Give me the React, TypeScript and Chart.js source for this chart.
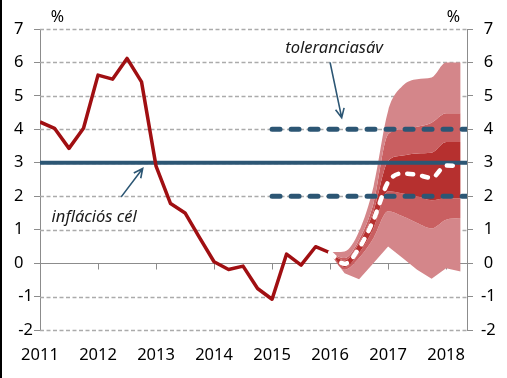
import React, { useEffect, useRef } from 'react';
import { Chart, registerables } from 'chart.js';

Chart.register(...registerables);

// ---------- data ----------
const yearTicks = [2011, 2012, 2013, 2014, 2015, 2016, 2017, 2018];
const valueTicks = [-2, -1, 0, 1, 2, 3, 4, 5, 6, 7];
const xMin = 2011;
const xMax = 2018.36;
const yMin = -2;
const yMax = 7;

const histX = [2011, 2011.25, 2011.5, 2011.75, 2012, 2012.25, 2012.5, 2012.75, 2013, 2013.25, 2013.5, 2013.75, 2014, 2014.25, 2014.5, 2014.75, 2015, 2015.25, 2015.5, 2015.75, 2016];
const inflation = [4.22, 4.03, 3.43, 4.03, 5.62, 5.5, 6.12, 5.42, 2.9, 1.78, 1.5, 0.76, 0.04, -0.19, -0.09, -0.76, -1.08, 0.27, -0.06, 0.49, 0.31];

const fcX = [2016, 2016.25, 2016.5, 2016.75, 2017, 2017.25, 2017.5, 2017.75, 2018, 2018.25];
const fcCentral = [0.31, -0.02, 0.45, 1.3, 2.42, 2.68, 2.64, 2.55, 2.92, 2.9];
const fcOuterHigh = [0.33, 0.35, 0.95, 2.3, 4.55, 5.3, 5.5, 5.55, 6.0, 6.0];
const fcMidHigh = [0.32, 0.15, 0.7, 1.8, 3.85, 4.0, 4.08, 4.2, 4.48, 4.48];
const fcInnerHigh = [0.31, 0.08, 0.6, 1.55, 3.05, 3.22, 3.28, 3.3, 3.62, 3.62];
const fcInnerLow = [0.3, -0.12, 0.3, 1.05, 2.15, 2.08, 2.0, 1.88, 1.94, 1.94];
const fcMidLow = [0.29, -0.2, 0.15, 0.75, 1.55, 1.4, 1.2, 1.04, 1.3, 1.35];
const fcOuterLow = [0.27, -0.3, -0.48, 0.0, 0.5, 0.15, -0.2, -0.47, -0.15, -0.25];

const inflationTarget = 3;
const toleranceLow = 2;
const toleranceHigh = 4;
const toleranceStart = 2015;

const toleranceLabel = 'toleranciasáv';
const targetLabel = 'inflációs cél';
const unitLabel = '%';
// annotation anchors in data units [x, y]
const toleranceLabelAt = [2016.07, 6.43];
const toleranceArrow = [2016.0, 6.0, 2016.2, 4.35];
const targetLabelAt = [2011.2, 1.38];
const targetArrow = [2012.4, 1.98, 2012.77, 2.83];

// ---------- styles ----------
const FONT = '"Noto Sans", "DejaVu Sans", sans-serif';
const BLUE = '#2C5674';
const RED = '#A00F12';
const LIGHT = '#D4868A';
const MEDIUM = '#C95F61';
const DARK = '#B6302F';
const AXIS = '#8c8c8c';

const pts = (xs: number[], ys: number[]) => xs.map((x, i) => ({ x, y: ys[i] }));

function drawArrow(ctx: CanvasRenderingContext2D, x1: number, y1: number, x2: number, y2: number) {
  const ang = Math.atan2(y2 - y1, x2 - x1);
  const len = 10;
  const spread = 0.45;
  ctx.beginPath();
  ctx.moveTo(x1, y1);
  ctx.lineTo(x2, y2);
  ctx.moveTo(x2 - len * Math.cos(ang - spread), y2 - len * Math.sin(ang - spread));
  ctx.lineTo(x2, y2);
  ctx.lineTo(x2 - len * Math.cos(ang + spread), y2 - len * Math.sin(ang + spread));
  ctx.stroke();
}

const decorPlugin = {
  id: 'decor',
  beforeDatasetsDraw(chart: any) {
    const { ctx, chartArea: a, scales } = chart;
    const y = scales.yL;
    const x = scales.x;
    ctx.save();
    valueTicks.forEach((v) => {
      const py = Math.round(y.getPixelForValue(v)) + 0.5;
      ctx.beginPath();
      if (v === 0) {
        ctx.setLineDash([]);
        ctx.strokeStyle = AXIS;
        ctx.lineWidth = 1;
      } else {
        ctx.setLineDash([4, 2.5]);
        ctx.strokeStyle = '#ababab';
        ctx.lineWidth = 1.4;
      }
      ctx.moveTo(a.left, py);
      ctx.lineTo(a.right, py);
      ctx.stroke();
    });
    ctx.setLineDash([]);
    ctx.strokeStyle = AXIS;
    ctx.lineWidth = 1;
    const p0 = Math.round(y.getPixelForValue(0)) + 0.5;
    yearTicks.forEach((v) => {
      if (v === xMin) return;
      const px = Math.round(x.getPixelForValue(v)) + 0.5;
      ctx.beginPath();
      ctx.moveTo(px, p0);
      ctx.lineTo(px, p0 + 6);
      ctx.stroke();
    });
    ctx.restore();
  },
  afterDatasetsDraw(chart: any) {
    const { ctx, chartArea: a, scales } = chart;
    const y = scales.yL;
    const x = scales.x;
    ctx.save();
    ctx.fillStyle = '#1a1a1a';
    ctx.textBaseline = 'middle';
    ctx.font = `italic 16.5px ${FONT}`;
    ctx.textAlign = 'center';
    ctx.fillText(toleranceLabel, x.getPixelForValue(toleranceLabelAt[0]), y.getPixelForValue(toleranceLabelAt[1]));
    ctx.textAlign = 'left';
    ctx.fillText(targetLabel, x.getPixelForValue(targetLabelAt[0]), y.getPixelForValue(targetLabelAt[1]));

    ctx.strokeStyle = BLUE;
    ctx.lineWidth = 1.6;
    drawArrow(ctx,
      x.getPixelForValue(toleranceArrow[0]), y.getPixelForValue(toleranceArrow[1]),
      x.getPixelForValue(toleranceArrow[2]), y.getPixelForValue(toleranceArrow[3]));
    drawArrow(ctx,
      x.getPixelForValue(targetArrow[0]), y.getPixelForValue(targetArrow[1]),
      x.getPixelForValue(targetArrow[2]), y.getPixelForValue(targetArrow[3]));

    ctx.fillStyle = '#000';
    ctx.font = `16px ${FONT}`;
    ctx.textAlign = 'center';
    ctx.fillText(unitLabel, a.left + 17.5, a.top - 11.5);
    ctx.fillText(unitLabel, a.right - 13.5, a.top - 11.5);
    ctx.restore();
  },
};

export default function App() {
  const ref = useRef<HTMLCanvasElement | null>(null);

  useEffect(() => {
    document.body.style.margin = '0';
    if (!ref.current) return;

    const fan = (data: number[], fill: any, color: string, mono = true) => ({
      data: pts(fcX, data),
      yAxisID: 'yL',
      borderWidth: 0,
      borderColor: 'transparent',
      backgroundColor: color,
      pointRadius: 0,
      fill,
      order: 20,
      cubicInterpolationMode: mono ? 'monotone' : 'default',
    });

    const chart = new Chart(ref.current, {
      type: 'line',
      data: {
        datasets: [
          fan(fcOuterHigh, '+1', LIGHT),
          fan(fcMidHigh, '+1', MEDIUM),
          fan(fcInnerHigh, '+1', DARK),
          fan(fcInnerLow, '+1', MEDIUM),
          fan(fcMidLow, '+1', LIGHT),
          fan(fcOuterLow, false, LIGHT, false),
          {
            data: [{ x: xMin, y: inflationTarget }, { x: xMax, y: inflationTarget }],
            yAxisID: 'yL', borderColor: BLUE, borderWidth: 4, pointRadius: 0, fill: false, order: 5,
          },
          {
            data: [{ x: toleranceStart, y: toleranceHigh }, { x: xMax, y: toleranceHigh }],
            yAxisID: 'yL', borderColor: BLUE, borderWidth: 5, borderDash: [8, 11], borderCapStyle: 'round',
            pointRadius: 0, fill: false, order: 5,
          },
          {
            data: [{ x: toleranceStart, y: toleranceLow }, { x: xMax, y: toleranceLow }],
            yAxisID: 'yL', borderColor: BLUE, borderWidth: 5, borderDash: [8, 11], borderCapStyle: 'round',
            pointRadius: 0, fill: false, order: 5,
          },
          {
            data: pts(histX, inflation),
            yAxisID: 'yL', borderColor: RED, borderWidth: 3.5, pointRadius: 0, fill: false, order: 2,
            borderJoinStyle: 'round',
          },
          {
            data: pts(fcX, fcCentral),
            yAxisID: 'yL', borderColor: '#ffffff', borderWidth: 4.5, borderDash: [6, 9], borderCapStyle: 'round',
            pointRadius: 0, fill: false, order: 1, cubicInterpolationMode: 'monotone',
          },
        ] as any,
      },
      options: {
        responsive: false,
        animation: false,
        devicePixelRatio: 1,
        layout: { padding: { top: 29, left: 0, right: 0, bottom: 0 } },
        plugins: { legend: { display: false }, tooltip: { enabled: false } },
        scales: {
          x: {
            type: 'linear',
            min: xMin,
            max: xMax,
            afterBuildTicks: (s: any) => { s.ticks = yearTicks.map((v) => ({ value: v })); },
            afterFit: (s: any) => { s.height = 48; },
            grid: { display: false, drawTicks: false },
            border: { display: false },
            ticks: {
              autoSkip: false,
              maxRotation: 0,
              padding: 15,
              color: '#000',
              font: { family: FONT, size: 16.5 },
              callback: (v: any) => String(v),
            },
          },
          yL: {
            type: 'linear',
            position: 'left',
            min: yMin,
            max: yMax,
            afterBuildTicks: (s: any) => { s.ticks = valueTicks.map((v) => ({ value: v })); },
            afterFit: (s: any) => { s.width = 40; },
            grid: { drawOnChartArea: false, drawTicks: true, tickLength: 6, tickColor: AXIS },
            border: { display: true, color: AXIS, width: 1 },
            ticks: {
              padding: 1,
              color: '#000',
              font: { family: FONT, size: 16.5 },
              callback: (v: any) => (v >= 0 ? `${v}\u2007` : `${v}`),
            },
          },
          yR: {
            type: 'linear',
            position: 'right',
            min: yMin,
            max: yMax,
            afterBuildTicks: (s: any) => { s.ticks = valueTicks.map((v) => ({ value: v })); },
            afterFit: (s: any) => { s.width = 40; },
            grid: { drawOnChartArea: false, drawTicks: true, tickLength: 6, tickColor: AXIS },
            border: { display: true, color: AXIS, width: 1 },
            ticks: {
              padding: 8,
              crossAlign: 'center',
              color: '#000',
              font: { family: FONT, size: 16.5 },
              callback: (v: any) => `${v}`,
            },
          },
        },
      } as any,
      plugins: [decorPlugin],
    });

    return () => chart.destroy();
  }, []);

  return (
    <div style={{ position: 'relative', width: 507, height: 378, background: '#fff' }}>
      <canvas ref={ref} width={507} height={378} style={{ display: 'block' }} />
      <div style={{ position: 'absolute', left: 0, top: 0, width: 2, height: 378, background: '#000' }} />
    </div>
  );
}
